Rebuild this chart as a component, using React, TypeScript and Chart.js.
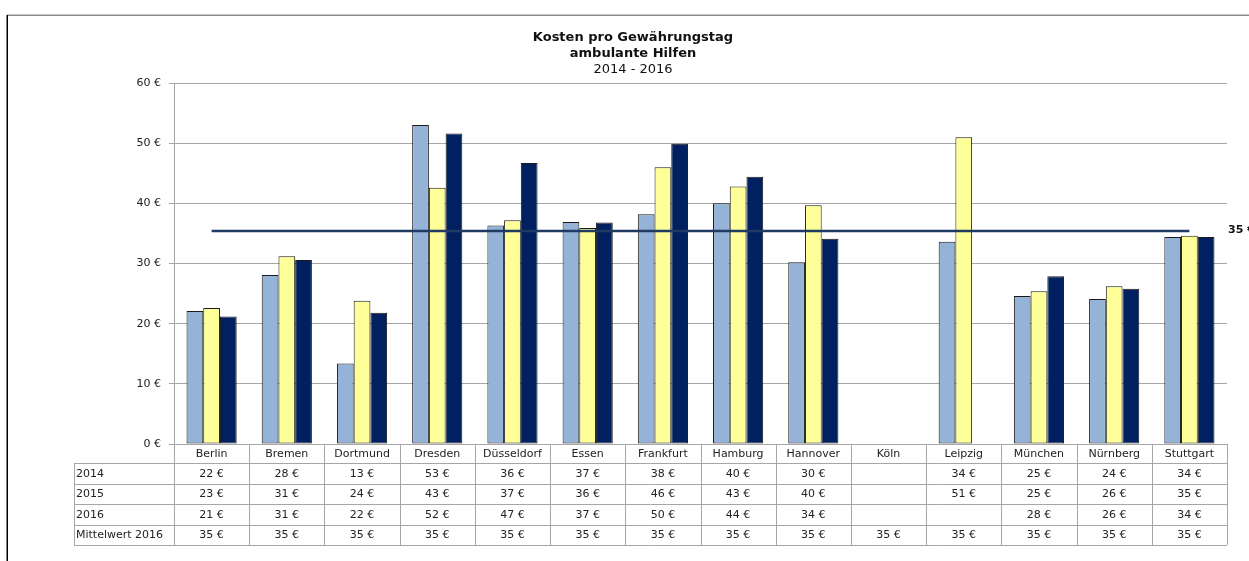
import React, { useEffect, useRef } from "react";
import { Chart, registerables } from "chart.js";

Chart.register(...registerables);

// Cities (one column per city in the data table)
const categories = [
  "Berlin", "Bremen", "Dortmund", "Dresden", "Düsseldorf", "Essen", "Frankfurt",
  "Hamburg", "Hannover", "Köln", "Leipzig", "München", "Nürnberg", "Stuttgart",
];

// Cost per day of granted support, in euro
const costs2014 = [22.1, 28.1, 13.4, 53.0, 36.3, 36.9, 38.2, 40.0, 30.2, null, 33.6, 24.6, 24.1, 34.4];
const costs2015 = [22.6, 31.2, 23.8, 42.6, 37.2, 35.9, 46.0, 42.8, 39.7, null, 51.0, 25.4, 26.2, 34.6];
const costs2016 = [21.2, 30.6, 21.8, 51.6, 46.7, 36.8, 49.9, 44.4, 34.1, null, null, 27.9, 25.8, 34.4];
const mean2016 = [35.4, 35.4, 35.4, 35.4, 35.4, 35.4, 35.4, 35.4, 35.4, 35.4, 35.4, 35.4, 35.4, 35.4];

const rowLabels = ["2014", "2015", "2016", "Mittelwert 2016"];
const titleLines = ["Kosten pro Gewährungstag", "ambulante Hilfen"];
const subtitle = "2014 - 2016";

const FONT = "'DejaVu Sans', sans-serif";
const euro = (v: number | null) => (v == null ? "" : `${Math.round(v)} €`);

const decor = {
  id: "sheetDecor",
  beforeDraw(chart: any) {
    const { ctx, width, height } = chart;
    ctx.save();
    ctx.fillStyle = "#fff";
    ctx.fillRect(0, 0, width, height);
    // outer frame of the chart object
    ctx.lineWidth = 1.5;
    ctx.strokeStyle = "#8c8c8c";
    ctx.beginPath();
    ctx.moveTo(7, 15.25);
    ctx.lineTo(width, 15.25);
    ctx.stroke();
    ctx.strokeStyle = "#000";
    ctx.beginPath();
    ctx.moveTo(7.25, 15);
    ctx.lineTo(7.25, height);
    ctx.stroke();
    ctx.restore();
  },
  afterDraw(chart: any) {
    const { ctx, chartArea, scales } = chart;
    const yScale = scales.y;
    const left = chartArea.left;
    const right = chartArea.right;
    const bottom = chartArea.bottom;
    const n = categories.length;
    const colW = (right - left) / n;
    const labelLeft = left - 100;
    const headerH = 19;
    const rowH = 20.5;
    const rowsTop = bottom + headerH;
    const tableBottom = rowsTop + rowH * rowLabels.length;
    const px = (v: number) => Math.round(v) + 0.5;

    ctx.save();

    // title
    const cx = 633;
    ctx.fillStyle = "#111";
    ctx.textAlign = "center";
    ctx.textBaseline = "middle";
    ctx.font = `bold 13px ${FONT}`;
    titleLines.forEach((t, i) => ctx.fillText(t, cx, 37.5 + i * 16));
    ctx.font = `13px ${FONT}`;
    ctx.fillText(subtitle, cx, 37.5 + 2 * 16);

    // data table grid
    ctx.strokeStyle = "#a6a6a6";
    ctx.lineWidth = 1;
    ctx.beginPath();
    for (let i = 0; i <= n; i++) {
      const x = px(left + i * colW);
      ctx.moveTo(x, bottom);
      ctx.lineTo(x, tableBottom);
    }
    ctx.moveTo(px(labelLeft), rowsTop);
    ctx.lineTo(px(labelLeft), tableBottom);
    for (let r = 0; r <= rowLabels.length; r++) {
      const y = px(rowsTop + r * rowH);
      ctx.moveTo(labelLeft, y);
      ctx.lineTo(right, y);
    }
    ctx.stroke();

    // table text
    ctx.font = `11px ${FONT}`;
    ctx.fillStyle = "#222";
    ctx.textBaseline = "middle";
    ctx.textAlign = "center";
    categories.forEach((c, i) => {
      ctx.fillText(c, left + (i + 0.5) * colW, bottom + headerH / 2 + 0.5);
    });
    const rows = [costs2014, costs2015, costs2016, mean2016];
    rows.forEach((vals, r) => {
      const y = rowsTop + (r + 0.5) * rowH + 0.5;
      ctx.textAlign = "left";
      ctx.fillText(rowLabels[r], labelLeft + 2, y);
      ctx.textAlign = "center";
      vals.forEach((v, i) => ctx.fillText(euro(v), left + (i + 0.5) * colW, y));
    });

    // mean value label at the end of the line
    const last = mean2016[mean2016.length - 1];
    ctx.font = `bold 11px ${FONT}`;
    ctx.fillStyle = "#111";
    ctx.textAlign = "left";
    ctx.fillText(euro(last), right + 1, yScale.getPixelForValue(last) - 1);

    ctx.restore();
  },
};

export default function App() {
  const canvasRef = useRef<HTMLCanvasElement | null>(null);

  useEffect(() => {
    if (!canvasRef.current) return;
    Chart.defaults.font.family = FONT;
    const barStyle = { borderColor: "#1a1a1a", borderWidth: 1, borderSkipped: false, order: 1 };
    const chart = new Chart(canvasRef.current, {
      type: "bar",
      data: {
        labels: categories,
        datasets: [
          { label: "2014", data: costs2014, backgroundColor: "#95b3d7", ...barStyle },
          { label: "2015", data: costs2015, backgroundColor: "#ffff99", ...barStyle },
          { label: "2016", data: costs2016, backgroundColor: "#002060", ...barStyle },
          {
            type: "line",
            label: "Mittelwert 2016",
            data: mean2016,
            borderColor: "#1f3b63",
            borderWidth: 2.5,
            pointRadius: 0,
            fill: false,
            order: 0,
          } as any,
        ],
      },
      options: {
        animation: false,
        responsive: false,
        devicePixelRatio: 1,
        layout: { padding: { left: 114, right: 22, top: 83, bottom: 117 } },
        datasets: { bar: { categoryPercentage: 0.667, barPercentage: 1 } },
        plugins: { legend: { display: false }, tooltip: { enabled: false }, title: { display: false } },
        scales: {
          x: { display: false, offset: true, grid: { display: false } },
          y: {
            min: 0,
            max: 60,
            ticks: {
              stepSize: 10,
              padding: 8,
              color: "#222",
              font: { size: 11 },
              callback: (v: any) => `${v} €`,
            },
            grid: { color: "#a6a6a6", lineWidth: 1, tickLength: 5 },
            border: { color: "#a6a6a6" },
            afterFit: (s: any) => {
              s.width = 60;
            },
          },
        },
      },
      plugins: [decor],
    } as any);
    return () => chart.destroy();
  }, []);

  return (
    <div style={{ position: "fixed", left: 0, top: 0, width: 1249, height: 561, background: "#fff", overflow: "hidden" }}>
      <canvas ref={canvasRef} width={1249} height={561} style={{ display: "block" }} />
    </div>
  );
}
